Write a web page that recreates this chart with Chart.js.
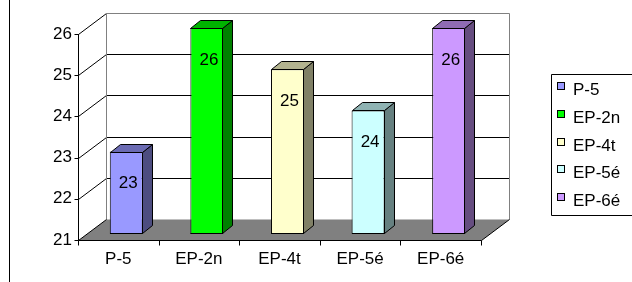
<!DOCTYPE html>
<html><head><meta charset="utf-8">
<script src="https://cdn.jsdelivr.net/npm/chart.js@4/dist/chart.umd.min.js"></script>
<style>html,body{margin:0;padding:0;background:#fff}canvas{display:block}</style>
</head><body>
<canvas id="c" width="632" height="282"></canvas>
<script>
// ── data ──
const categories=['P-5','EP-2n','EP-4t','EP-5é','EP-6é'];
const values=[23,26,25,24,26];
const barColors=['#9999FF','#00FF00','#FFFFCC','#CCFFFF','#CC99FF'];
const yMin=21, yMax=26;

const FONT='"Liberation Sans", Arial, sans-serif';
const FS=17;
// 3D offsets relative to the bar plane
const FRONT={dx:-8,dy:6}, BACK={dx:20,dy:-15}, DEPTH={dx:10,dy:-8};

function shade(hex,f){
  const n=parseInt(hex.slice(1),16);
  const r=Math.round(((n>>16)&255)*f),g=Math.round(((n>>8)&255)*f),b=Math.round((n&255)*f);
  return `rgb(${r},${g},${b})`;
}
function poly(ctx,pts,fill,stroke){
  ctx.beginPath();ctx.moveTo(pts[0][0],pts[0][1]);
  for(let i=1;i<pts.length;i++)ctx.lineTo(pts[i][0],pts[i][1]);
  ctx.closePath();
  if(fill){ctx.fillStyle=fill;ctx.fill()}
  if(stroke){ctx.strokeStyle=stroke;ctx.lineWidth=1;ctx.stroke()}
}
function line(ctx,x1,y1,x2,y2,c){
  ctx.beginPath();ctx.moveTo(x1,y1);ctx.lineTo(x2,y2);ctx.strokeStyle=c;ctx.lineWidth=1;ctx.stroke();
}

const box3d={
  id:'box3d',
  beforeDatasetsDraw(chart){
    const {ctx,chartArea:a,scales:{x,y}}=chart;
    ctx.save();
    const fl=Math.round(a.left+FRONT.dx)+.5, fr=Math.round(a.right+FRONT.dx)+.5, fb=Math.round(a.bottom+FRONT.dy)+.5;
    const bl=Math.round(a.left+BACK.dx)+.5, br=Math.round(a.right+BACK.dx)+.5, bb=Math.round(a.bottom+BACK.dy)+.5, bt=Math.round(a.top+BACK.dy)+.5;
    // back wall gridlines + left wall diagonals
    for(let v=yMin+1;v<=yMax;v++){
      const py=Math.round(y.getPixelForValue(v));
      const yb=py+BACK.dy+.5, yf=py+FRONT.dy+.5;
      if(v<yMax)line(ctx,bl,yb,br,yb,'#000');
      line(ctx,fl,yf,bl,yb,'#000');
    }
    // back wall border
    ctx.beginPath();ctx.moveTo(bl,bb);ctx.lineTo(bl,bt);ctx.lineTo(br,bt);ctx.lineTo(br,bb);
    ctx.strokeStyle='#808080';ctx.lineWidth=1;ctx.stroke();
    // floor
    poly(ctx,[[fl,fb],[fr,fb],[br,bb],[bl,bb]],'#808080',null);
    line(ctx,fl,fb,bl,bb,'#000');
    line(ctx,fr,fb,br,bb,'#000');
    line(ctx,fl,fb,fr,fb,'#000');
    // front value axis
    const ft=Math.round(y.getPixelForValue(yMax))+FRONT.dy;
    line(ctx,fl,ft,fl,fb,'#000');
    for(let v=yMin;v<=yMax;v++){
      const yf=Math.round(y.getPixelForValue(v))+FRONT.dy+.5;
      line(ctx,fl-4,yf,fl,yf,'#000');
    }
    // category ticks
    const n=categories.length, w=(a.right-a.left)/n;
    for(let i=0;i<=n;i++){
      const xx=Math.round(a.left+FRONT.dx+i*w)+.5;
      line(ctx,xx,fb,xx,fb+5,'#000');
    }
    ctx.restore();
  },
  afterDatasetsDraw(chart){
    const {ctx,chartArea:a}=chart;
    const meta=chart.getDatasetMeta(0);
    ctx.save();
    meta.data.forEach((el,i)=>{
      const {x:cx,y:top,base,width}=el.getProps(['x','y','base','width'],true);
      const l=Math.round(cx-width/2)+.5, r=Math.round(cx+width/2)-.5, t=Math.round(top)+.5, b=Math.round(Math.min(base,a.bottom))-.5;
      const c=barColors[i];
      poly(ctx,[[r,t],[r+DEPTH.dx,t+DEPTH.dy],[r+DEPTH.dx,b+DEPTH.dy],[r,b]],shade(c,.5),'#000');
      poly(ctx,[[l,t],[l+DEPTH.dx,t+DEPTH.dy],[r+DEPTH.dx,t+DEPTH.dy],[r,t]],shade(c,.7),'#000');
      line(ctx,l,b,r,b,'#000');
      // value label
      ctx.fillStyle='#000';ctx.font=`${FS}px ${FONT}`;ctx.textAlign='center';ctx.textBaseline='middle';
      ctx.fillText(String(values[i]),cx+2,top+32);
    });
    ctx.restore();
  },
  afterDraw(chart){
    const {ctx}=chart;
    ctx.save();
    // outer chart border (left edge)
    line(ctx,9.5,0,9.5,chart.height,'#000');
    // legend
    const lx=551.5, ly=74.5, lb=215.5;
    ctx.beginPath();ctx.moveTo(640,ly);ctx.lineTo(lx,ly);ctx.lineTo(lx,lb);ctx.lineTo(640,lb);
    ctx.strokeStyle='#000';ctx.lineWidth=1;ctx.stroke();
    ctx.font=`${FS}px ${FONT}`;ctx.textAlign='left';ctx.textBaseline='middle';
    categories.forEach((lab,i)=>{
      const cy=Math.round(89+i*27.8);
      ctx.fillStyle=barColors[i];ctx.fillRect(557.5,cy-6.5,7,7);
      ctx.strokeStyle='#000';ctx.strokeRect(557.5,cy-6.5,7,7);
      ctx.fillStyle='#000';ctx.fillText(lab,573,cy+1);
    });
    ctx.restore();
  }
};

new Chart(document.getElementById('c'),{
  type:'bar',
  data:{labels:categories,datasets:[{
    data:values,base:yMin,backgroundColor:barColors,borderColor:'#000',borderWidth:1,borderSkipped:false,
    barPercentage:0.41,categoryPercentage:1
  }]},
  options:{
    responsive:false,animation:false,devicePixelRatio:1,
    layout:{padding:{top:28,right:143,left:0,bottom:0}},
    plugins:{legend:{display:false},tooltip:{enabled:false}},
    scales:{
      x:{grid:{display:false,drawTicks:false},border:{display:false},
        ticks:{color:'#000',font:{family:FONT,size:FS},padding:15,labelOffset:FRONT.dx,maxRotation:0},
        afterFit(s){s.height=48}},
      y:{min:yMin,max:yMax,grid:{display:false,drawTicks:false},border:{display:false},
        ticks:{stepSize:1,color:'#000',font:{family:FONT,size:FS},padding:14,labelOffset:FRONT.dy},
        afterFit(s){s.width=86}}
    }
  },
  plugins:[box3d]
});
</script>
</body></html>
